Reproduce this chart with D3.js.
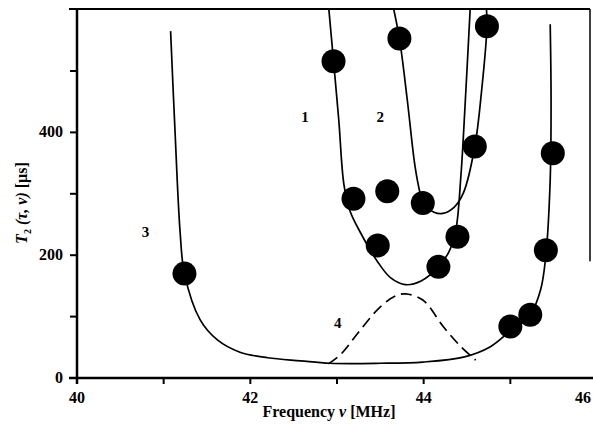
<!DOCTYPE html>
<meta charset="utf-8">
<title>T2 vs frequency</title>
<style>
  body { margin: 0; background: #fff; }
  svg text { font-family: "Liberation Serif", "DejaVu Serif", serif; font-weight: bold; fill: #000; }
</style>
<body>
<script src="https://cdn.jsdelivr.net/npm/d3@7"></script>
<script>

// data: [frequency MHz, T2 us]
var curve1 = [[42.90,610],[42.96,516],[43.02,421],[43.08,315],[43.15,272],[43.27,237],[43.47,189],
              [43.62,163],[43.79,152],[43.97,158],[44.17,181],[44.29,205],[44.37,240],[44.43,330],
              [44.48,450],[44.54,610]];
var curve2 = [[43.64,610],[43.72,553],[43.81,454],[43.90,345],[43.96,300],[43.99,285],[44.12,270],
              [44.22,268],[44.35,278],[44.46,302],[44.59,377],[44.67,470],[44.73,573],[44.72,610]];
var curve3 = [[41.08,565],[41.13,405],[41.19,237],[41.24,170],[41.42,95],[41.62,62],[41.88,42],
              [42.20,33],[42.58,28],[42.92,24],[43.50,24],[43.99,26],[44.46,34],[44.77,51],
              [45.01,78],[45.23,103],[45.35,144],[45.41,200],[45.46,323],[45.47,454],[45.46,576]];
var curve4 = [[42.90,23],[43.04,38],[43.24,73],[43.50,116],[43.68,134],[43.79,137],[43.99,127],
              [44.23,83],[44.43,51],[44.60,29]];
var dots = [[41.24,170],[42.96,516],[43.72,553],[44.73,573],[43.19,292],[43.58,304],[43.99,285],
            [44.59,377],[43.47,216],[44.39,230],[44.17,181],[45.49,366],[45.41,208],[45.23,103],[45.00,84]];
var curveLabels = [["1",42.63,425],["2",43.50,425],["3",40.79,238],["4",43.01,90]];
var xTicks = [40,41,42,43,44,45,46];
var xLabels = [40,42,44,46];
var yTicks = [0,100,200,300,400,500];
var yLabels = [0,200,400];

var W = 593, H = 428;
var x = d3.scaleLinear().domain([40, 46]).range([77, 597]);
var y = d3.scaleLinear().domain([0, 500]).range([378, 71]);
var plotTop = 9, plotRight = 590;

var svg = d3.select("body").append("svg")
  .attr("width", W).attr("height", H);

svg.append("clipPath").attr("id", "plot")
  .append("rect")
  .attr("x", x(40)).attr("y", plotTop)
  .attr("width", plotRight - x(40)).attr("height", y(0) - plotTop);

var line = d3.line()
  .x(function(d) { return x(d[0]); })
  .y(function(d) { return y(d[1]); })
  .curve(d3.curveCatmullRom.alpha(0.5));

var g = svg.append("g").attr("clip-path", "url(#plot)");

[curve1, curve2, curve3].forEach(function(c) {
  g.append("path").datum(c)
    .attr("d", line)
    .attr("fill", "none")
    .attr("stroke", "#000")
    .attr("stroke-width", 1.7);
});

g.append("path").datum(curve4)
  .attr("d", line)
  .attr("fill", "none")
  .attr("stroke", "#000")
  .attr("stroke-width", 1.7)
  .attr("stroke-dasharray", "11,6");

g.selectAll("circle")
  .data(dots)
  .enter()
  .append("circle")
  .attr("cx", function(d) { return x(d[0]); })
  .attr("cy", function(d) { return y(d[1]); })
  .attr("r", 12)
  .attr("fill", "#000");

// frame: top and right
svg.append("line")
  .attr("x1", x(40) - 8).attr("x2", plotRight)
  .attr("y1", plotTop).attr("y2", plotTop)
  .attr("stroke", "#000").attr("stroke-width", 2);
svg.append("line")
  .attr("x1", plotRight).attr("x2", plotRight)
  .attr("y1", plotTop).attr("y2", y(190))
  .attr("stroke", "#000").attr("stroke-width", 1.5);

// axes
svg.append("line")
  .attr("x1", x(40) - 8).attr("x2", W)
  .attr("y1", y(0)).attr("y2", y(0))
  .attr("stroke", "#000").attr("stroke-width", 2.5);
svg.append("line")
  .attr("x1", x(40)).attr("x2", x(40))
  .attr("y1", plotTop).attr("y2", y(0) + 6)
  .attr("stroke", "#000").attr("stroke-width", 2.5);

svg.selectAll(".xt")
  .data(xTicks)
  .enter()
  .append("line")
  .attr("x1", function(d) { return x(d); })
  .attr("x2", function(d) { return x(d); })
  .attr("y1", y(0)).attr("y2", y(0) + 6)
  .attr("stroke", "#000").attr("stroke-width", 2);

svg.selectAll(".yt")
  .data(yTicks)
  .enter()
  .append("line")
  .attr("x1", x(40) - 7).attr("x2", x(40))
  .attr("y1", function(d) { return y(d); })
  .attr("y2", function(d) { return y(d); })
  .attr("stroke", "#000").attr("stroke-width", 2);

svg.selectAll(".xl")
  .data(xLabels)
  .enter()
  .append("text")
  .attr("x", function(d) { return Math.min(x(d), W - 10); })
  .attr("y", y(0) + 25)
  .attr("text-anchor", "middle")
  .style("font-size", "16px")
  .text(function(d) { return d; });

svg.selectAll(".yl")
  .data(yLabels)
  .enter()
  .append("text")
  .attr("x", x(40) - 14)
  .attr("y", function(d) { return y(d) + 5; })
  .attr("text-anchor", "end")
  .style("font-size", "16px")
  .text(function(d) { return d; });

svg.selectAll(".cl")
  .data(curveLabels)
  .enter()
  .append("text")
  .attr("x", function(d) { return x(d[1]); })
  .attr("y", function(d) { return y(d[2]) + 5; })
  .attr("text-anchor", "middle")
  .style("font-size", "15px")
  .text(function(d) { return d[0]; });

// axis titles
var xt = svg.append("text")
  .attr("x", 329).attr("y", 417)
  .attr("text-anchor", "middle")
  .style("font-size", "16px");
xt.append("tspan").text("Frequency ");
xt.append("tspan").style("font-style", "italic").text("ν");
xt.append("tspan").text(" [MHz]");

var yt = svg.append("text")
  .attr("transform", "translate(27,203) rotate(-90)")
  .attr("text-anchor", "middle")
  .style("font-size", "16px");
yt.append("tspan").style("font-style", "italic").text("T");
yt.append("tspan").attr("dy", 4).style("font-size", "10px").text("2");
yt.append("tspan").attr("dy", -4).style("font-style", "italic").text(" (τ, ν) ");
yt.append("tspan").text("[µs]");

</script>
</body>
